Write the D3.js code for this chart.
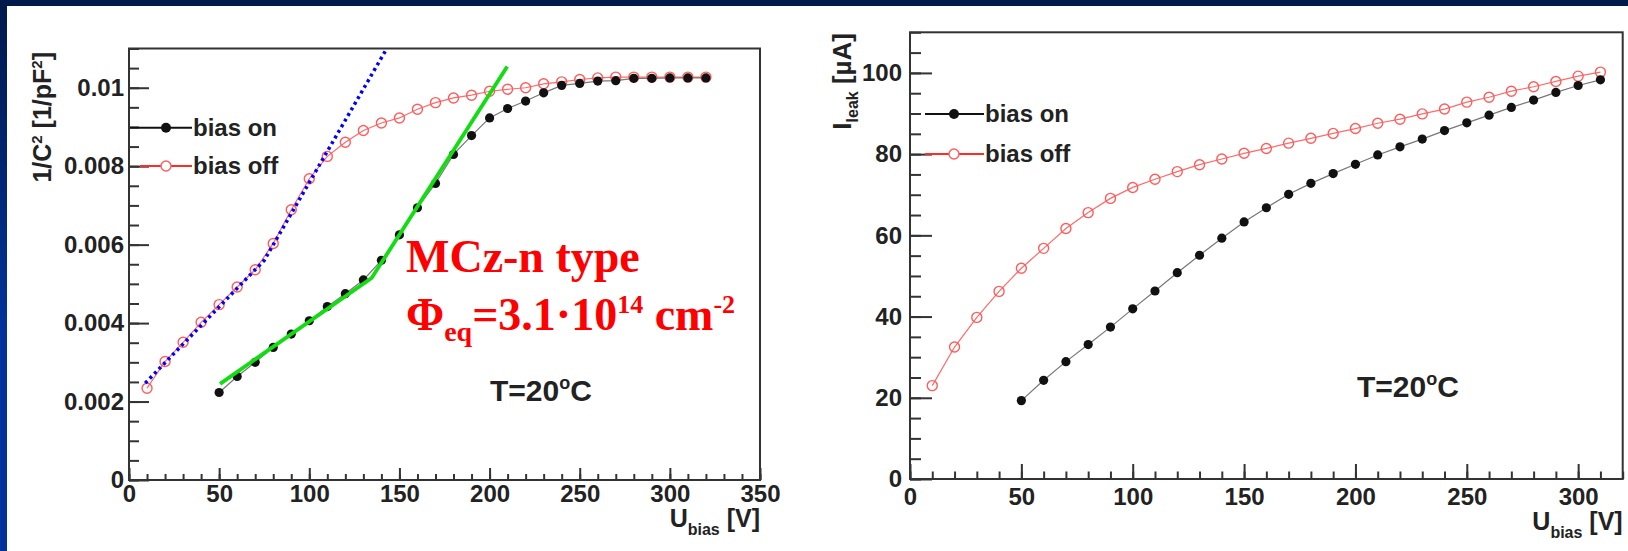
<!DOCTYPE html>
<html>
<head>
<meta charset="utf-8">
<script src="https://cdn.jsdelivr.net/npm/d3@7"></script>
<style>
  html, body { margin: 0; background: #fff; overflow: hidden; }
  svg { display: block; }
  .lbl { font-family: "Liberation Sans", Arial, sans-serif; font-weight: bold; fill: #222; }
</style>
</head>
<body>
<script>
// ---- data ----
// left panel: 1/C^2 vs U_bias
var capOnV  = [50,60,70,80,90,100,110,120,130,140,150,160,170,180,190,200,210,220,230,240,250,260,270,280,290,300,310,320];
var capOnY  = [0.00223,0.00264,0.00300,0.00338,0.00372,0.00406,0.00442,0.00475,0.00510,0.00560,0.00625,0.00694,0.00756,0.00830,
               0.00878,0.00923,0.00947,0.00966,0.00987,0.01006,0.01011,0.01017,0.01018,0.01024,0.01024,0.01025,0.01025,0.01025];
var capOffV = [10,20,30,40,50,60,70,80,90,100,110,120,130,140,150,160,170,180,190,200,210,220,230,240,250,260,270,280,290,300,310,320];
var capOffY = [0.00234,0.00302,0.00351,0.00402,0.00447,0.00492,0.00536,0.00603,0.00689,0.00768,0.00825,0.00861,0.00891,0.00910,
               0.00923,0.00945,0.00962,0.00974,0.00981,0.00991,0.00996,0.01000,0.01010,0.01015,0.01021,0.01025,0.01027,0.01027,
               0.01027,0.01027,0.01027,0.01027];
// fitted straight lines
var blueFitV  = [9, 75, 143];
var blueFitY  = [0.00247, 0.0056, 0.0110];
var greenFitV = [50.5, 134.6, 209.8];
var greenFitY = [0.00245, 0.00515, 0.01054];

// right panel: I_leak vs U_bias
var leakOnV  = [50,60,70,80,90,100,110,120,130,140,150,160,170,180,190,200,210,220,230,240,250,260,270,280,290,300,310];
var leakOnY  = [19.3,24.3,28.9,33.1,37.4,41.9,46.3,50.8,55.1,59.3,63.3,66.8,70.1,72.8,75.2,77.5,79.8,81.8,83.7,85.8,87.7,89.6,
                91.5,93.3,95.2,96.9,98.3];
var leakOffV = [10,20,30,40,50,60,70,80,90,100,110,120,130,140,150,160,170,180,190,200,210,220,230,240,250,260,270,280,290,300,310];
var leakOffY = [23.0,32.5,39.8,46.2,51.9,56.8,61.7,65.6,69.1,71.8,73.8,75.7,77.4,78.8,80.2,81.4,82.7,83.9,85.1,86.3,87.6,88.6,
                89.9,91.1,92.8,94.0,95.5,96.6,97.9,99.2,100.2];

// tick labels
var capXTicks  = [0,50,100,150,200,250,300,350];
var capYTicks  = [0,0.002,0.004,0.006,0.008,0.01];
var leakXTicks = [0,50,100,150,200,250,300];
var leakYTicks = [0,20,40,60,80,100];

var legendNames = ["bias on", "bias off"];

var W = 1628, H = 551;
var svg = d3.select("body").append("svg").attr("width", W).attr("height", H);

// slide frame (dark band on top, blue gradient on the left)
var grad = svg.append("defs").append("linearGradient")
  .attr("id", "side").attr("x1", 0).attr("y1", 0).attr("x2", 0).attr("y2", 1);
grad.append("stop").attr("offset", "0%").attr("stop-color", "#00194a");
grad.append("stop").attr("offset", "60%").attr("stop-color", "#00339a");
grad.append("stop").attr("offset", "100%").attr("stop-color", "#003399");
svg.append("rect").attr("x", 0).attr("y", 0).attr("width", W).attr("height", 6).attr("fill", "#001a4a");
svg.append("rect").attr("x", 0).attr("y", 0).attr("width", 7).attr("height", H).attr("fill", "url(#side)");

function panel(p) {
  var g = svg.append("g");
  var x = d3.scaleLinear().domain(p.xDom).range(p.xRange);
  var y = d3.scaleLinear().domain(p.yDom).range(p.yRange);

  // minor ticks
  g.append("g").attr("transform", "translate(" + p.xRange[0] + ",0)")
    .call(d3.axisLeft(y).tickValues(p.yMinor).tickSize(-p.yTick / 2).tickFormat(""));
  g.append("g").attr("transform", "translate(0," + p.yRange[0] + ")")
    .call(d3.axisBottom(x).tickValues(p.xMinor).tickSize(-p.xTick / 2).tickFormat(""));
  // major ticks with labels
  var ya = g.append("g").attr("transform", "translate(" + p.xRange[0] + ",0)")
    .call(d3.axisLeft(y).tickValues(p.yMajor).tickSize(-p.yTick).tickPadding(p.yPad).tickFormat(p.yFmt));
  var xa = g.append("g").attr("transform", "translate(0," + p.yRange[0] + ")")
    .call(d3.axisBottom(x).tickValues(p.xMajor).tickSize(-p.xTick).tickPadding(p.xPad).tickFormat(d3.format("d")));

  g.selectAll(".domain").remove();
  g.selectAll(".tick line").attr("stroke", "#333").attr("stroke-width", 2);
  [ya, xa].forEach(function(a) {
    a.attr("font-family", null).attr("font-size", null);
    a.selectAll("text").attr("class", "lbl").attr("font-size", 24).attr("fill", "#222");
  });

  // frame
  g.append("rect")
    .attr("x", p.xRange[0]).attr("y", p.yRange[1])
    .attr("width", p.xRange[1] - p.xRange[0]).attr("height", p.yRange[0] - p.yRange[1])
    .attr("fill", "none").attr("stroke", "#333").attr("stroke-width", 2);

  var line = d3.line().x(d => x(d[0])).y(d => y(d[1]));

  // bias off (red, open circles)
  var off = d3.zip(p.offV, p.offY);
  g.append("path").datum(off).attr("d", line)
    .attr("fill", "none").attr("stroke", "#ff6a6a").attr("stroke-width", 1.2);
  g.selectAll(".off").data(off).enter().append("circle")
    .attr("cx", d => x(d[0])).attr("cy", d => y(d[1])).attr("r", 5)
    .attr("fill", "none").attr("stroke", "#ff5c5c").attr("stroke-width", 1.4);

  // bias on (black, filled)
  var on = d3.zip(p.onV, p.onY);
  g.append("path").datum(on).attr("d", line)
    .attr("fill", "none").attr("stroke", "#777").attr("stroke-width", 1.2);
  g.selectAll(".on").data(on).enter().append("circle")
    .attr("cx", d => x(d[0])).attr("cy", d => y(d[1])).attr("r", 4.6)
    .attr("fill", "#111");

  // legend
  var lg = g.append("g");
  p.leg.forEach(function(l, i) {
    lg.append("line").attr("x1", l.x1).attr("x2", l.x2).attr("y1", l.y).attr("y2", l.y)
      .attr("stroke", i === 0 ? "#111" : "#ff2a2a").attr("stroke-width", 2);
    var m = lg.append("circle").attr("cx", l.mx).attr("cy", l.y).attr("r", 5);
    if (i === 0) m.attr("fill", "#111");
    else m.attr("fill", "#fff").attr("stroke", "#ff5c5c").attr("stroke-width", 1.4);
    lg.append("text").attr("class", "lbl").attr("x", l.x2 + 1).attr("y", l.y)
      .attr("dy", "0.35em").attr("font-size", 24).text(legendNames[i]);
  });

  // x title
  var xt = g.append("text").attr("class", "lbl").attr("x", p.xRange[1]).attr("y", p.xTitleY)
    .attr("text-anchor", "end").attr("font-size", 25);
  xt.append("tspan").text("U");
  xt.append("tspan").attr("font-size", 16).attr("dy", 8).text("bias");
  xt.append("tspan").attr("dy", -8).text(" [V]");

  // T label
  var tl = g.append("text").attr("class", "lbl").attr("x", p.tX).attr("y", p.tY).attr("font-size", 30);
  tl.append("tspan").text("T=20");
  tl.append("tspan").attr("font-size", 18).attr("dy", -12).text("o");
  tl.append("tspan").attr("dy", 12).text("C");

  return {g: g, x: x, y: y};
}

// ---- left panel ----
var left = panel({
  xDom: [0, 350], xRange: [129, 760],
  yDom: [0, 0.011], yRange: [480, 48.5],
  xMajor: capXTicks, xMinor: d3.range(0, 351, 10),
  yMajor: capYTicks, yMinor: d3.range(0, 0.01101, 0.0005),
  xTick: 12, yTick: 20, xPad: 5, yPad: 5,
  yFmt: function(d) { return d === 0 ? "0" : String(+d.toFixed(3)); },
  onV: capOnV, onY: capOnY, offV: capOffV, offY: capOffY,
  leg: [{x1: 130, x2: 192, mx: 166, y: 127.7}, {x1: 140, x2: 192, mx: 166, y: 166}],
  xTitleY: 527, tX: 490, tY: 401
});

// fit lines on the left panel
var fline = d3.line().x(d => left.x(d[0])).y(d => left.y(d[1]));
left.g.append("path").datum(d3.zip(blueFitV, blueFitY)).attr("d", fline)
  .attr("fill", "none").attr("stroke", "#0000ff").attr("stroke-width", 3.5).attr("stroke-dasharray", "3,3.5");
left.g.append("path").datum(d3.zip(greenFitV, greenFitY)).attr("d", fline)
  .attr("fill", "none").attr("stroke", "#11dd11").attr("stroke-width", 3.8);

// y title left
var yl = left.g.append("text").attr("class", "lbl").attr("font-size", 25).attr("text-anchor", "end")
  .attr("transform", "translate(51,52) rotate(-90)");
yl.append("tspan").text("1/C");
yl.append("tspan").attr("font-size", 15).attr("dy", -9).text("2");
yl.append("tspan").attr("dy", 9).text(" [1/pF");
yl.append("tspan").attr("font-size", 15).attr("dy", -9).text("2");
yl.append("tspan").attr("dy", 9).text("]");

// annotation
var ann = svg.append("g").attr("fill", "#ff0000")
  .attr("font-family", "'Liberation Serif', 'Times New Roman', serif").attr("font-weight", "bold");
ann.append("text").attr("x", 406).attr("y", 272).attr("font-size", 46).text("MCz-n type");
var phi = ann.append("text").attr("x", 406).attr("y", 330).attr("font-size", 46);
phi.append("tspan").text("Φ");
phi.append("tspan").attr("font-size", 28).attr("dy", 11).text("eq");
phi.append("tspan").attr("dy", -11).text("=3.1·10");
phi.append("tspan").attr("font-size", 26).attr("dy", -17).text("14");
phi.append("tspan").attr("dy", 17).text(" cm");
phi.append("tspan").attr("font-size", 26).attr("dy", -17).text("-2");

// ---- right panel ----
var right = panel({
  xDom: [0, 320], xRange: [910, 1622.7],
  yDom: [0, 110], yRange: [479, 32.3],
  xMajor: leakXTicks, xMinor: d3.range(0, 321, 10),
  yMajor: leakYTicks, yMinor: d3.range(0, 111, 5),
  xTick: 15, yTick: 22, xPad: 9, yPad: 8,
  yFmt: d3.format("d"),
  onV: leakOnV, onY: leakOnY, offV: leakOffV, offY: leakOffY,
  leg: [{x1: 925, x2: 984, mx: 954, y: 114}, {x1: 925, x2: 984, mx: 954, y: 154}],
  xTitleY: 530, tX: 1357, tY: 397
});

var yr = right.g.append("text").attr("class", "lbl").attr("font-size", 26).attr("text-anchor", "end")
  .attr("transform", "translate(851,33) rotate(-90)");
yr.append("tspan").text("I");
yr.append("tspan").attr("font-size", 16).attr("dy", 7).text("leak");
yr.append("tspan").attr("dy", -7).text(" [µA]");
</script>
</body>
</html>
